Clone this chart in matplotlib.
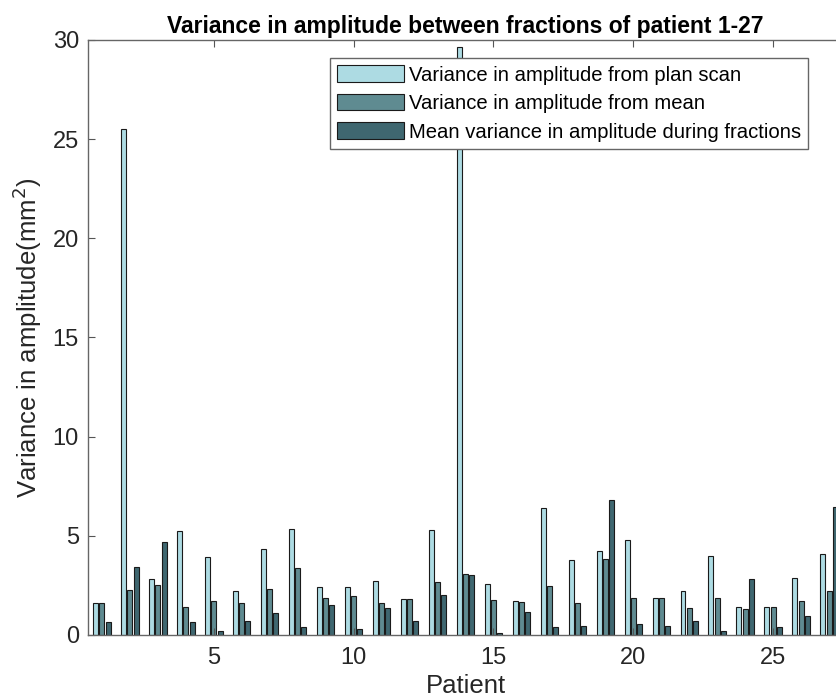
import matplotlib.pyplot as plt
import numpy as np

plt.rcParams['font.family'] = ['Liberation Sans', 'DejaVu Sans']

patients = np.arange(1, 28)

plan_scan = [1.63, 25.5, 2.84, 5.24, 3.95, 2.24, 4.34, 5.35, 2.42, 2.42,
             2.72, 1.82, 5.28, 29.65, 2.57, 1.71, 6.39, 3.77, 4.22, 4.81,
             1.88, 2.22, 3.97, 1.41, 1.43, 2.87, 4.10]
from_mean = [1.60, 2.27, 2.50, 1.41, 1.71, 1.63, 2.30, 3.36, 1.85, 1.97,
             1.63, 1.82, 2.66, 3.08, 1.77, 1.66, 2.47, 1.63, 3.82, 1.88,
             1.88, 1.34, 1.88, 1.31, 1.43, 1.73, 2.24]
during_fx = [0.67, 3.41, 4.69, 0.66, 0.20, 0.72, 1.13, 0.39, 1.51, 0.30,
             1.34, 0.71, 2.00, 3.00, 0.10, 1.14, 0.42, 0.45, 6.82, 0.54,
             0.45, 0.72, 0.20, 2.84, 0.40, 0.97, 6.44]

labels = ['Variance in amplitude from plan scan',
          'Variance in amplitude from mean',
          'Mean variance in amplitude during fractions']
colors = ['#ADDBE3', '#5F8B91', '#3F6770']

fig = plt.figure(figsize=(8.37, 7), dpi=100)
ax = fig.add_axes([0.1051, 0.0929, 0.9021, 0.85])

step = 0.222
w = 0.178
for i, vals in enumerate([plan_scan, from_mean, during_fx]):
    ax.bar(patients + (i - 1) * step, vals, width=w, color=colors[i],
           edgecolor='#1a1a1a', linewidth=0.8, label=labels[i])

ax.set_xlim(0.5, 27.5)
ax.set_ylim(0, 30)
ax.set_xticks([5, 10, 15, 20, 25])
ax.set_yticks([0, 5, 10, 15, 20, 25, 30])
ax.tick_params(direction='in', top=True, right=True, labelsize=17,
               color='#555555', labelcolor='#262626', length=5)
ax.tick_params(axis='x', pad=9)
ax.tick_params(axis='y', pad=6.5)
for s in ax.spines.values():
    s.set_color('#666666')
    s.set_linewidth(1.0)

ax.set_xlabel('Patient', fontsize=18.5, color='#262626', labelpad=3)
ax.set_ylabel('Variance in amplitude(mm$^2$)', fontsize=18.5,
              color='#262626', labelpad=6)
ax.set_title('Variance in amplitude between fractions of patient 1-27',
             fontsize=16.5, fontweight='bold', pad=5)

leg = ax.legend(loc='upper right', bbox_to_anchor=(808 / 837, 1 - 58 / 700),
                bbox_transform=fig.transFigure, fontsize=14.6, fancybox=False,
                edgecolor='#666666', framealpha=1, borderpad=0.35,
                labelspacing=0.45, handlelength=3.3, handleheight=0.9,
                handletextpad=0.25, borderaxespad=0)
leg.get_frame().set_linewidth(1.0)

fig.savefig('out.png', dpi=100)
